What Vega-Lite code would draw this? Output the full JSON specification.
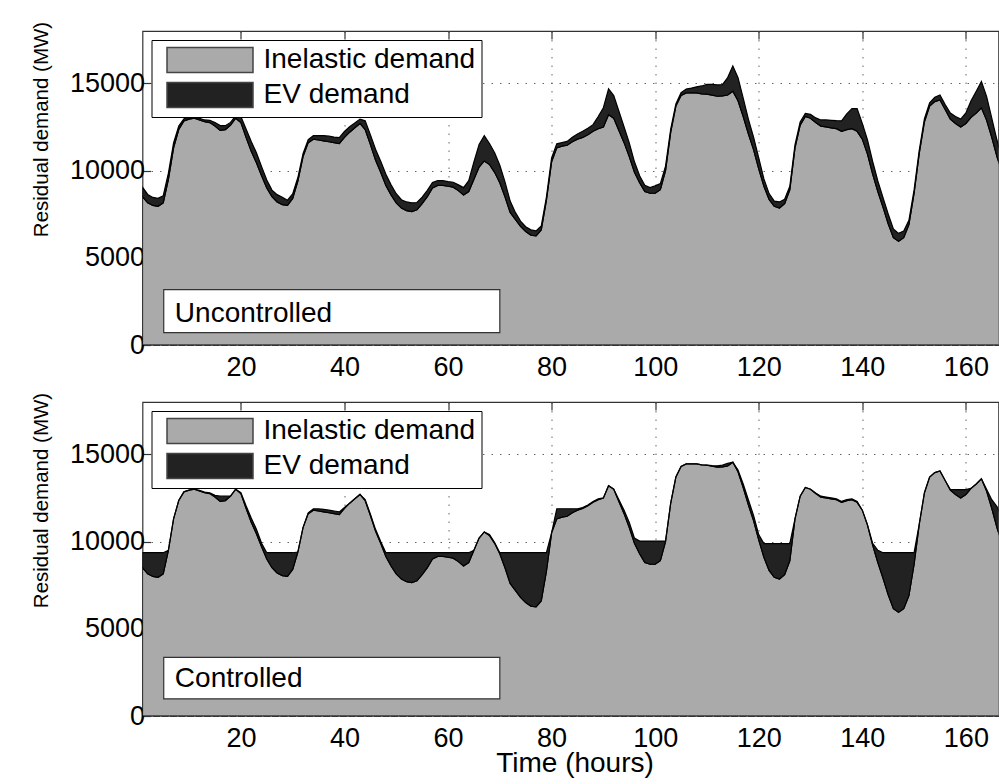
{
  "$schema": "https://vega.github.io/schema/vega-lite/v6.json",
  "background": "white",
  "padding": {"left": 30.5, "top": 20, "right": 0, "bottom": 0},
  "spacing": 10,
  "config": {
    "font": "Liberation Sans",
    "view": {"stroke": "#333", "strokeWidth": 1.2},
    "axis": {
      "labelFont": "Liberation Sans", "labelFontSize": 27, "labelColor": "black",
      "titleFont": "Liberation Sans", "titleFontWeight": "normal", "titleColor": "black",
      "gridColor": "#666", "gridDash": [1.5, 7], "gridWidth": 1,
      "tickColor": "#333", "tickSize": -8, "tickWidth": 1.2, "domain": false
    }
  },
  "datasets": {
    "demand": [
      {"t":1,"Inelastic demand":8500,"EV uncontrolled":550,"EV controlled":860},
      {"t":2,"Inelastic demand":8150,"EV uncontrolled":480,"EV controlled":1210},
      {"t":3,"Inelastic demand":8000,"EV uncontrolled":460,"EV controlled":1360},
      {"t":4,"Inelastic demand":7950,"EV uncontrolled":460,"EV controlled":1410},
      {"t":5,"Inelastic demand":8150,"EV uncontrolled":400,"EV controlled":1210},
      {"t":6,"Inelastic demand":9500,"EV uncontrolled":350,"EV controlled":0},
      {"t":7,"Inelastic demand":11300,"EV uncontrolled":280,"EV controlled":0},
      {"t":8,"Inelastic demand":12350,"EV uncontrolled":200,"EV controlled":0},
      {"t":9,"Inelastic demand":12850,"EV uncontrolled":120,"EV controlled":0},
      {"t":10,"Inelastic demand":12950,"EV uncontrolled":80,"EV controlled":0},
      {"t":11,"Inelastic demand":13000,"EV uncontrolled":80,"EV controlled":0},
      {"t":12,"Inelastic demand":12900,"EV uncontrolled":90,"EV controlled":30},
      {"t":13,"Inelastic demand":12800,"EV uncontrolled":100,"EV controlled":30},
      {"t":14,"Inelastic demand":12750,"EV uncontrolled":130,"EV controlled":50},
      {"t":15,"Inelastic demand":12550,"EV uncontrolled":200,"EV controlled":100},
      {"t":16,"Inelastic demand":12300,"EV uncontrolled":280,"EV controlled":300},
      {"t":17,"Inelastic demand":12350,"EV uncontrolled":220,"EV controlled":250},
      {"t":18,"Inelastic demand":12600,"EV uncontrolled":160,"EV controlled":0},
      {"t":19,"Inelastic demand":13000,"EV uncontrolled":150,"EV controlled":0},
      {"t":20,"Inelastic demand":12750,"EV uncontrolled":350,"EV controlled":50},
      {"t":21,"Inelastic demand":11900,"EV uncontrolled":480,"EV controlled":150},
      {"t":22,"Inelastic demand":11100,"EV uncontrolled":560,"EV controlled":250},
      {"t":23,"Inelastic demand":10450,"EV uncontrolled":570,"EV controlled":250},
      {"t":24,"Inelastic demand":9700,"EV uncontrolled":520,"EV controlled":200},
      {"t":25,"Inelastic demand":9000,"EV uncontrolled":460,"EV controlled":360},
      {"t":26,"Inelastic demand":8500,"EV uncontrolled":380,"EV controlled":860},
      {"t":27,"Inelastic demand":8200,"EV uncontrolled":420,"EV controlled":1160},
      {"t":28,"Inelastic demand":8050,"EV uncontrolled":420,"EV controlled":1310},
      {"t":29,"Inelastic demand":8000,"EV uncontrolled":300,"EV controlled":1360},
      {"t":30,"Inelastic demand":8400,"EV uncontrolled":260,"EV controlled":960},
      {"t":31,"Inelastic demand":9400,"EV uncontrolled":200,"EV controlled":0},
      {"t":32,"Inelastic demand":10800,"EV uncontrolled":170,"EV controlled":0},
      {"t":33,"Inelastic demand":11600,"EV uncontrolled":170,"EV controlled":50},
      {"t":34,"Inelastic demand":11800,"EV uncontrolled":200,"EV controlled":80},
      {"t":35,"Inelastic demand":11750,"EV uncontrolled":260,"EV controlled":120},
      {"t":36,"Inelastic demand":11700,"EV uncontrolled":300,"EV controlled":150},
      {"t":37,"Inelastic demand":11650,"EV uncontrolled":320,"EV controlled":150},
      {"t":38,"Inelastic demand":11600,"EV uncontrolled":320,"EV controlled":150},
      {"t":39,"Inelastic demand":11550,"EV uncontrolled":340,"EV controlled":150},
      {"t":40,"Inelastic demand":11900,"EV uncontrolled":340,"EV controlled":50},
      {"t":41,"Inelastic demand":12200,"EV uncontrolled":320,"EV controlled":0},
      {"t":42,"Inelastic demand":12450,"EV uncontrolled":280,"EV controlled":0},
      {"t":43,"Inelastic demand":12700,"EV uncontrolled":250,"EV controlled":0},
      {"t":44,"Inelastic demand":12350,"EV uncontrolled":500,"EV controlled":50},
      {"t":45,"Inelastic demand":11500,"EV uncontrolled":560,"EV controlled":80},
      {"t":46,"Inelastic demand":10600,"EV uncontrolled":620,"EV controlled":100},
      {"t":47,"Inelastic demand":9900,"EV uncontrolled":640,"EV controlled":100},
      {"t":48,"Inelastic demand":9150,"EV uncontrolled":640,"EV controlled":210},
      {"t":49,"Inelastic demand":8600,"EV uncontrolled":580,"EV controlled":760},
      {"t":50,"Inelastic demand":8150,"EV uncontrolled":520,"EV controlled":1210},
      {"t":51,"Inelastic demand":7850,"EV uncontrolled":480,"EV controlled":1510},
      {"t":52,"Inelastic demand":7700,"EV uncontrolled":500,"EV controlled":1660},
      {"t":53,"Inelastic demand":7650,"EV uncontrolled":500,"EV controlled":1710},
      {"t":54,"Inelastic demand":7750,"EV uncontrolled":420,"EV controlled":1610},
      {"t":55,"Inelastic demand":8100,"EV uncontrolled":380,"EV controlled":1260},
      {"t":56,"Inelastic demand":8500,"EV uncontrolled":360,"EV controlled":860},
      {"t":57,"Inelastic demand":9000,"EV uncontrolled":320,"EV controlled":360},
      {"t":58,"Inelastic demand":9150,"EV uncontrolled":280,"EV controlled":210},
      {"t":59,"Inelastic demand":9150,"EV uncontrolled":270,"EV controlled":210},
      {"t":60,"Inelastic demand":9100,"EV uncontrolled":270,"EV controlled":260},
      {"t":61,"Inelastic demand":9050,"EV uncontrolled":280,"EV controlled":310},
      {"t":62,"Inelastic demand":8850,"EV uncontrolled":330,"EV controlled":510},
      {"t":63,"Inelastic demand":8600,"EV uncontrolled":420,"EV controlled":760},
      {"t":64,"Inelastic demand":8800,"EV uncontrolled":620,"EV controlled":560},
      {"t":65,"Inelastic demand":9500,"EV uncontrolled":1000,"EV controlled":0},
      {"t":66,"Inelastic demand":10200,"EV uncontrolled":1300,"EV controlled":0},
      {"t":67,"Inelastic demand":10550,"EV uncontrolled":1450,"EV controlled":0},
      {"t":68,"Inelastic demand":10350,"EV uncontrolled":1200,"EV controlled":50},
      {"t":69,"Inelastic demand":9900,"EV uncontrolled":1120,"EV controlled":50},
      {"t":70,"Inelastic demand":9300,"EV uncontrolled":1000,"EV controlled":60},
      {"t":71,"Inelastic demand":8500,"EV uncontrolled":850,"EV controlled":860},
      {"t":72,"Inelastic demand":7600,"EV uncontrolled":650,"EV controlled":1760},
      {"t":73,"Inelastic demand":7200,"EV uncontrolled":400,"EV controlled":2160},
      {"t":74,"Inelastic demand":6800,"EV uncontrolled":300,"EV controlled":2560},
      {"t":75,"Inelastic demand":6500,"EV uncontrolled":280,"EV controlled":2860},
      {"t":76,"Inelastic demand":6300,"EV uncontrolled":300,"EV controlled":3060},
      {"t":77,"Inelastic demand":6250,"EV uncontrolled":290,"EV controlled":3110},
      {"t":78,"Inelastic demand":6600,"EV uncontrolled":220,"EV controlled":2760},
      {"t":79,"Inelastic demand":8300,"EV uncontrolled":180,"EV controlled":1060},
      {"t":80,"Inelastic demand":10500,"EV uncontrolled":220,"EV controlled":0},
      {"t":81,"Inelastic demand":11300,"EV uncontrolled":230,"EV controlled":580},
      {"t":82,"Inelastic demand":11400,"EV uncontrolled":200,"EV controlled":480},
      {"t":83,"Inelastic demand":11450,"EV uncontrolled":220,"EV controlled":430},
      {"t":84,"Inelastic demand":11650,"EV uncontrolled":260,"EV controlled":230},
      {"t":85,"Inelastic demand":11800,"EV uncontrolled":300,"EV controlled":80},
      {"t":86,"Inelastic demand":11900,"EV uncontrolled":350,"EV controlled":50},
      {"t":87,"Inelastic demand":12050,"EV uncontrolled":370,"EV controlled":50},
      {"t":88,"Inelastic demand":12250,"EV uncontrolled":380,"EV controlled":50},
      {"t":89,"Inelastic demand":12400,"EV uncontrolled":700,"EV controlled":50},
      {"t":90,"Inelastic demand":12500,"EV uncontrolled":1100,"EV controlled":0},
      {"t":91,"Inelastic demand":13200,"EV uncontrolled":1480,"EV controlled":0},
      {"t":92,"Inelastic demand":13000,"EV uncontrolled":1300,"EV controlled":0},
      {"t":93,"Inelastic demand":12300,"EV uncontrolled":1100,"EV controlled":100},
      {"t":94,"Inelastic demand":11600,"EV uncontrolled":900,"EV controlled":200},
      {"t":95,"Inelastic demand":10800,"EV uncontrolled":780,"EV controlled":300},
      {"t":96,"Inelastic demand":9900,"EV uncontrolled":600,"EV controlled":300},
      {"t":97,"Inelastic demand":9300,"EV uncontrolled":400,"EV controlled":730},
      {"t":98,"Inelastic demand":8800,"EV uncontrolled":350,"EV controlled":1230},
      {"t":99,"Inelastic demand":8700,"EV uncontrolled":320,"EV controlled":1330},
      {"t":100,"Inelastic demand":8700,"EV uncontrolled":420,"EV controlled":1330},
      {"t":101,"Inelastic demand":8900,"EV uncontrolled":350,"EV controlled":1130},
      {"t":102,"Inelastic demand":10000,"EV uncontrolled":250,"EV controlled":30},
      {"t":103,"Inelastic demand":12200,"EV uncontrolled":180,"EV controlled":0},
      {"t":104,"Inelastic demand":13700,"EV uncontrolled":120,"EV controlled":0},
      {"t":105,"Inelastic demand":14300,"EV uncontrolled":160,"EV controlled":0},
      {"t":106,"Inelastic demand":14450,"EV uncontrolled":220,"EV controlled":0},
      {"t":107,"Inelastic demand":14450,"EV uncontrolled":280,"EV controlled":0},
      {"t":108,"Inelastic demand":14450,"EV uncontrolled":350,"EV controlled":0},
      {"t":109,"Inelastic demand":14400,"EV uncontrolled":450,"EV controlled":0},
      {"t":110,"Inelastic demand":14380,"EV uncontrolled":560,"EV controlled":0},
      {"t":111,"Inelastic demand":14320,"EV uncontrolled":620,"EV controlled":30},
      {"t":112,"Inelastic demand":14260,"EV uncontrolled":650,"EV controlled":80},
      {"t":113,"Inelastic demand":14280,"EV uncontrolled":650,"EV controlled":100},
      {"t":114,"Inelastic demand":14330,"EV uncontrolled":1000,"EV controlled":150},
      {"t":115,"Inelastic demand":14550,"EV uncontrolled":1450,"EV controlled":0},
      {"t":116,"Inelastic demand":14000,"EV uncontrolled":1330,"EV controlled":100},
      {"t":117,"Inelastic demand":13100,"EV uncontrolled":1050,"EV controlled":200},
      {"t":118,"Inelastic demand":12100,"EV uncontrolled":850,"EV controlled":300},
      {"t":119,"Inelastic demand":11200,"EV uncontrolled":720,"EV controlled":300},
      {"t":120,"Inelastic demand":10100,"EV uncontrolled":620,"EV controlled":300},
      {"t":121,"Inelastic demand":9100,"EV uncontrolled":420,"EV controlled":780},
      {"t":122,"Inelastic demand":8350,"EV uncontrolled":330,"EV controlled":1530},
      {"t":123,"Inelastic demand":7950,"EV uncontrolled":300,"EV controlled":1930},
      {"t":124,"Inelastic demand":7850,"EV uncontrolled":350,"EV controlled":2030},
      {"t":125,"Inelastic demand":8100,"EV uncontrolled":250,"EV controlled":1780},
      {"t":126,"Inelastic demand":8900,"EV uncontrolled":200,"EV controlled":980},
      {"t":127,"Inelastic demand":11300,"EV uncontrolled":180,"EV controlled":0},
      {"t":128,"Inelastic demand":12600,"EV uncontrolled":180,"EV controlled":0},
      {"t":129,"Inelastic demand":13100,"EV uncontrolled":180,"EV controlled":0},
      {"t":130,"Inelastic demand":13000,"EV uncontrolled":220,"EV controlled":0},
      {"t":131,"Inelastic demand":12750,"EV uncontrolled":270,"EV controlled":30},
      {"t":132,"Inelastic demand":12550,"EV uncontrolled":350,"EV controlled":50},
      {"t":133,"Inelastic demand":12500,"EV uncontrolled":400,"EV controlled":50},
      {"t":134,"Inelastic demand":12450,"EV uncontrolled":430,"EV controlled":50},
      {"t":135,"Inelastic demand":12400,"EV uncontrolled":460,"EV controlled":50},
      {"t":136,"Inelastic demand":12250,"EV uncontrolled":600,"EV controlled":50},
      {"t":137,"Inelastic demand":12350,"EV uncontrolled":900,"EV controlled":50},
      {"t":138,"Inelastic demand":12400,"EV uncontrolled":1150,"EV controlled":50},
      {"t":139,"Inelastic demand":12250,"EV uncontrolled":1300,"EV controlled":50},
      {"t":140,"Inelastic demand":11800,"EV uncontrolled":900,"EV controlled":0},
      {"t":141,"Inelastic demand":10950,"EV uncontrolled":800,"EV controlled":0},
      {"t":142,"Inelastic demand":9800,"EV uncontrolled":720,"EV controlled":100},
      {"t":143,"Inelastic demand":8800,"EV uncontrolled":600,"EV controlled":700},
      {"t":144,"Inelastic demand":7900,"EV uncontrolled":550,"EV controlled":1460},
      {"t":145,"Inelastic demand":6950,"EV uncontrolled":560,"EV controlled":2410},
      {"t":146,"Inelastic demand":6150,"EV uncontrolled":500,"EV controlled":3210},
      {"t":147,"Inelastic demand":5950,"EV uncontrolled":450,"EV controlled":3410},
      {"t":148,"Inelastic demand":6150,"EV uncontrolled":380,"EV controlled":3210},
      {"t":149,"Inelastic demand":6900,"EV uncontrolled":250,"EV controlled":2460},
      {"t":150,"Inelastic demand":8700,"EV uncontrolled":190,"EV controlled":660},
      {"t":151,"Inelastic demand":11000,"EV uncontrolled":180,"EV controlled":0},
      {"t":152,"Inelastic demand":12800,"EV uncontrolled":180,"EV controlled":0},
      {"t":153,"Inelastic demand":13700,"EV uncontrolled":180,"EV controlled":0},
      {"t":154,"Inelastic demand":13950,"EV uncontrolled":250,"EV controlled":0},
      {"t":155,"Inelastic demand":14050,"EV uncontrolled":280,"EV controlled":0},
      {"t":156,"Inelastic demand":13500,"EV uncontrolled":280,"EV controlled":0},
      {"t":157,"Inelastic demand":12950,"EV uncontrolled":350,"EV controlled":30},
      {"t":158,"Inelastic demand":12700,"EV uncontrolled":400,"EV controlled":280},
      {"t":159,"Inelastic demand":12500,"EV uncontrolled":450,"EV controlled":480},
      {"t":160,"Inelastic demand":12700,"EV uncontrolled":600,"EV controlled":280},
      {"t":161,"Inelastic demand":13050,"EV uncontrolled":950,"EV controlled":0},
      {"t":162,"Inelastic demand":13300,"EV uncontrolled":1250,"EV controlled":0},
      {"t":163,"Inelastic demand":13600,"EV uncontrolled":1500,"EV controlled":0},
      {"t":164,"Inelastic demand":12900,"EV uncontrolled":1350,"EV controlled":100},
      {"t":165,"Inelastic demand":11900,"EV uncontrolled":1100,"EV controlled":500},
      {"t":166,"Inelastic demand":10800,"EV uncontrolled":950,"EV controlled":1200},
      {"t":167,"Inelastic demand":9900,"EV uncontrolled":800,"EV controlled":1500},
      {"t":168,"Inelastic demand":9300,"EV uncontrolled":700,"EV controlled":1500}
    ]
  },
  "resolve": {"scale": {"color": "independent"}, "legend": {"color": "independent"}},
  "vconcat": [
    {
      "width": 856, "height": 314,
      "data": {"name": "demand"},
      "resolve": {"axis": {"x": "independent"}},
      "layer": [
        {
          "transform": [{"fold": ["Inelastic demand", "EV uncontrolled"], "as": ["series", "MW"]}],
          "mark": {"type": "area", "stroke": "black", "strokeWidth": 1.2, "clip": true, "interpolate": "linear"},
          "encoding": {
            "x": {"field": "t", "type": "quantitative", "scale": {"domain": [1, 166.3], "nice": false, "zero": false},
                  "axis": {"values": [20, 40, 60, 80, 100, 120, 140, 160], "title": null, "grid": true, "labelPadding": 17}},
            "y": {"field": "MW", "type": "quantitative", "stack": "zero", "scale": {"domain": [0, 18000], "nice": false},
                  "axis": {"values": [0, 5000, 10000, 15000], "format": "d", "title": "Residual demand (MW)", "titleFontSize": 20.5, "titlePadding": 18, "titleY": 98, "grid": true, "labelPadding": 6}},
            "color": {"field": "series", "type": "nominal",
                      "scale": {"domain": ["Inelastic demand", "EV uncontrolled"], "range": ["#aaaaaa", "#222222"]},
                      "legend": {"orient": "none", "legendX": 9, "legendY": 9, "title": null,
                                 "labelExpr": "datum.label == 'Inelastic demand' ? 'Inelastic demand' : 'EV demand'",
                                 "symbolType": "M-1,-1H5.88V1H-1Z", "symbolSize": 625, "symbolOffset": 8,
                                 "symbolStrokeColor": "#444", "symbolStrokeWidth": 1.5,
                                 "labelFont": "Liberation Sans", "labelFontSize": 28, "labelColor": "black", "labelLimit": 500,
                                 "labelOffset": 70, "rowPadding": 3, "padding": 6,
                                 "fillColor": "white", "strokeColor": "black"}},
            "order": {"field": "series", "sort": "descending"}
          }
        },
        {
          "data": {"values": [{}]},
          "mark": {"type": "rect", "fill": "white", "stroke": "#333", "strokeWidth": 1.2},
          "encoding": {
            "x": {"datum": 5.1, "type": "quantitative",
                  "axis": {"orient": "top", "values": [20, 40, 60, 80, 100, 120, 140, 160], "labels": false, "grid": false, "title": null}},
            "x2": {"datum": 70},
            "y": {"datum": 3170, "type": "quantitative"},
            "y2": {"datum": 714}
          }
        },
        {
          "data": {"values": [{}]},
          "mark": {"type": "text", "text": "Uncontrolled", "align": "left", "baseline": "alphabetic", "fontSize": 28, "font": "Liberation Sans", "color": "black"},
          "encoding": {
            "x": {"datum": 7.25, "type": "quantitative", "axis": null},
            "y": {"datum": 1343, "type": "quantitative"}
          }
        }
      ]
    },
    {
      "width": 856, "height": 314,
      "data": {"name": "demand"},
      "resolve": {"axis": {"x": "independent"}},
      "layer": [
        {
          "transform": [{"fold": ["Inelastic demand", "EV controlled"], "as": ["series", "MW"]}],
          "mark": {"type": "area", "stroke": "black", "strokeWidth": 1.2, "clip": true, "interpolate": "linear"},
          "encoding": {
            "x": {"field": "t", "type": "quantitative", "scale": {"domain": [1, 166.3], "nice": false, "zero": false},
                  "axis": {"values": [20, 40, 60, 80, 100, 120, 140, 160], "title": "Time (hours)", "titleFontSize": 28, "titlePadding": -2, "titleX": 432, "grid": true, "labelPadding": 17}},
            "y": {"field": "MW", "type": "quantitative", "stack": "zero", "scale": {"domain": [0, 18000], "nice": false},
                  "axis": {"values": [0, 5000, 10000, 15000], "format": "d", "title": "Residual demand (MW)", "titleFontSize": 20.5, "titlePadding": 18, "titleY": 98, "grid": true, "labelPadding": 6}},
            "color": {"field": "series", "type": "nominal",
                      "scale": {"domain": ["Inelastic demand", "EV controlled"], "range": ["#aaaaaa", "#222222"]},
                      "legend": {"orient": "none", "legendX": 9, "legendY": 9, "title": null,
                                 "labelExpr": "datum.label == 'Inelastic demand' ? 'Inelastic demand' : 'EV demand'",
                                 "symbolType": "M-1,-1H5.88V1H-1Z", "symbolSize": 625, "symbolOffset": 8,
                                 "symbolStrokeColor": "#444", "symbolStrokeWidth": 1.5,
                                 "labelFont": "Liberation Sans", "labelFontSize": 28, "labelColor": "black", "labelLimit": 500,
                                 "labelOffset": 70, "rowPadding": 3, "padding": 6,
                                 "fillColor": "white", "strokeColor": "black"}},
            "order": {"field": "series", "sort": "descending"}
          }
        },
        {
          "data": {"values": [{}]},
          "mark": {"type": "rect", "fill": "white", "stroke": "#333", "strokeWidth": 1.2},
          "encoding": {
            "x": {"datum": 5.1, "type": "quantitative",
                  "axis": {"orient": "top", "values": [20, 40, 60, 80, 100, 120, 140, 160], "labels": false, "grid": false, "title": null}},
            "x2": {"datum": 70},
            "y": {"datum": 3360, "type": "quantitative"},
            "y2": {"datum": 983}
          }
        },
        {
          "data": {"values": [{}]},
          "mark": {"type": "text", "text": "Controlled", "align": "left", "baseline": "alphabetic", "fontSize": 28, "font": "Liberation Sans", "color": "black"},
          "encoding": {
            "x": {"datum": 7.25, "type": "quantitative", "axis": null},
            "y": {"datum": 1645, "type": "quantitative"}
          }
        }
      ]
    }
  ]
}
